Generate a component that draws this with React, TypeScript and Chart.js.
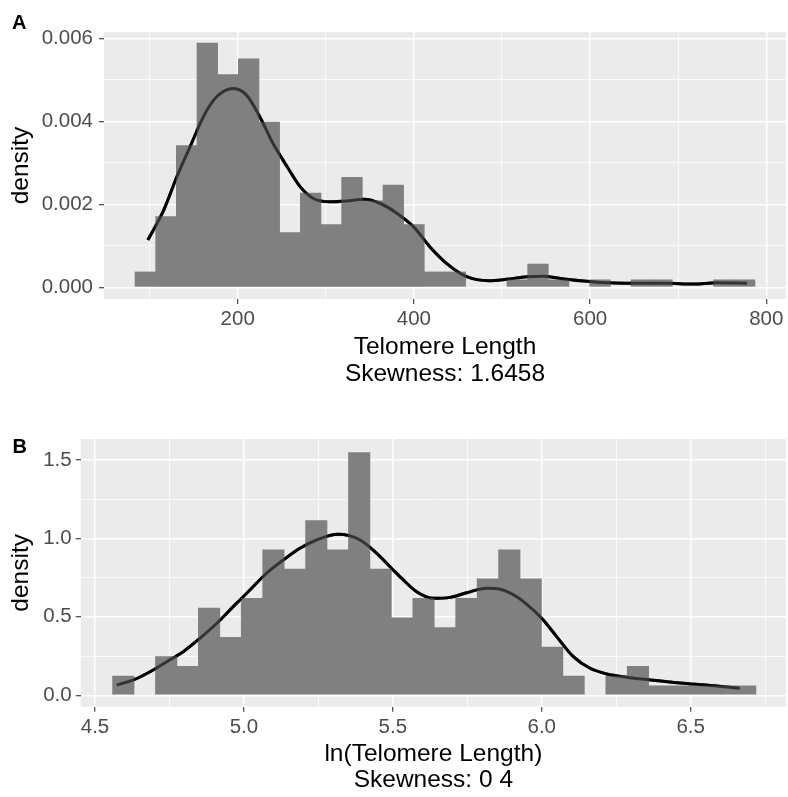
import React, { useEffect, useRef } from 'react';
import { Chart, registerables } from 'chart.js';

Chart.register(...registerables);

const FONT = '"Liberation Sans", Arial, Helvetica, sans-serif';

// ---- Panel A: telomere length ----
const lengthBinCenters = [
  95.1, 118.56, 142.02, 165.48, 188.94, 212.4, 235.86, 259.32, 282.78, 306.24,
  329.7, 353.16, 376.62, 400.08, 423.54, 447.0, 470.46, 493.92, 517.38, 540.84,
  564.3, 587.76, 611.22, 634.68, 658.14, 681.6, 705.06, 728.52, 751.98, 775.44,
];
const lengthDensity = [
  0.00038, 0.00171, 0.00342, 0.00589, 0.00513, 0.00551, 0.00399, 0.00133, 0.00228, 0.00152,
  0.00266, 0.00209, 0.00247, 0.00152, 0.00038, 0.00038, 0, 0, 0.00019, 0.00057,
  0.00019, 0, 0.00019, 0, 0.00019, 0.00019, 0, 0, 0.00019, 0.00019,
];
const lengthCurveX = [
  98, 116, 131, 146, 161, 176, 195, 210, 225, 240, 256, 271, 286, 305, 324, 343, 362,
  381, 400, 418, 437, 460, 485, 505, 528, 547, 566, 589, 611, 649, 687, 717, 744, 778,
];
const lengthCurveY = [
  0.00114, 0.00186, 0.00267, 0.00339, 0.00411, 0.00459, 0.00479, 0.00463, 0.00411, 0.00347,
  0.00291, 0.00242, 0.00214, 0.00206, 0.00208, 0.00212, 0.00202, 0.00178, 0.00145, 0.00098,
  0.00058, 0.000256, 0.00016, 0.000195, 0.000256, 0.00027, 0.000216, 0.00016, 0.00012, 0.0001,
  0.0001, 0.00008, 0.00011, 0.0001,
];
const lengthXMajor = [200, 400, 600, 800];
const lengthXLabels = ['200', '400', '600', '800'];
const lengthXMinor = [100, 300, 500, 700];
const lengthYMajor = [0, 0.002, 0.004, 0.006];
const lengthYLabels = ['0.000', '0.002', '0.004', '0.006'];
const lengthYMinor = [0.001, 0.003, 0.005];

// ---- Panel B: ln(telomere length) ----
const logBinCenters = [
  4.595, 4.667, 4.739, 4.811, 4.883, 4.955, 5.027, 5.099, 5.171, 5.243,
  5.315, 5.387, 5.459, 5.531, 5.603, 5.675, 5.747, 5.819, 5.891, 5.963,
  6.035, 6.107, 6.179, 6.251, 6.323, 6.395, 6.467, 6.539, 6.611, 6.683,
];
const logDensity = [
  0.124, 0, 0.248, 0.186, 0.558, 0.372, 0.62, 0.93, 0.806, 1.116,
  0.93, 1.55, 0.806, 0.496, 0.62, 0.434, 0.62, 0.744, 0.93, 0.744,
  0.31, 0.124, 0, 0.124, 0.186, 0.062, 0.062, 0.062, 0.062, 0.062,
];
const logCurveX = [
  4.573, 4.629, 4.685, 4.741, 4.796, 4.852, 4.909, 4.964, 5.02, 5.076, 5.132, 5.188,
  5.244, 5.316, 5.39, 5.446, 5.501, 5.53, 5.58, 5.636, 5.692, 5.748, 5.815, 5.86,
  5.916, 5.971, 6.005, 6.05, 6.106, 6.162, 6.218, 6.285, 6.363, 6.475, 6.587, 6.665,
];
const logCurveY = [
  0.066, 0.098, 0.15, 0.214, 0.278, 0.363, 0.459, 0.565, 0.671, 0.778, 0.862, 0.937,
  0.99, 1.026, 0.99, 0.905, 0.799, 0.745, 0.66, 0.618, 0.624, 0.654, 0.682, 0.676,
  0.628, 0.544, 0.48, 0.374, 0.246, 0.172, 0.136, 0.115, 0.098, 0.076, 0.059, 0.045,
];
const logXMajor = [4.5, 5.0, 5.5, 6.0, 6.5];
const logXLabels = ['4.5', '5.0', '5.5', '6.0', '6.5'];
const logXMinor = [4.75, 5.25, 5.75, 6.25, 6.75];
const logYMajor = [0, 0.5, 1.0, 1.5];
const logYLabels = ['0.0', '0.5', '1.0', '1.5'];
const logYMinor = [0.25, 0.75, 1.25];

type PanelSpec = {
  tag: string;
  tagX: number;
  tagY: number;
  binCenters: number[];
  density: number[];
  curveX: number[];
  curveY: number[];
  xRange: [number, number];
  yRange: [number, number];
  xMajor: number[];
  xLabels: string[];
  xMinor: number[];
  yMajor: number[];
  yLabels: string[];
  yMinor: number[];
  xTitle: string[];
  height: number;
  padTop: number;
  yAxisWidth: number;
  xAxisHeight: number;
  yTickPad: number;
  xTickPad: number;
  xTitlePad: number;
  yTitlePad: number;
};

const lengthPanel: PanelSpec = {
  tag: 'A',
  tagX: 12,
  tagY: 28.5,
  binCenters: lengthBinCenters,
  density: lengthDensity,
  curveX: lengthCurveX,
  curveY: lengthCurveY,
  xRange: [48.2, 822.4],
  yRange: [-0.00028, 0.00615],
  xMajor: lengthXMajor,
  xLabels: lengthXLabels,
  xMinor: lengthXMinor,
  yMajor: lengthYMajor,
  yLabels: lengthYLabels,
  yMinor: lengthYMinor,
  xTitle: ['Telomere Length', 'Skewness: 1.6458'],
  height: 398,
  padTop: 32,
  yAxisWidth: 104,
  xAxisHeight: 99,
  yTickPad: 6,
  xTickPad: 3.2,
  xTitlePad: 10.8,
  yTitlePad: 6.3,
};

const logPanel: PanelSpec = {
  tag: 'B',
  tagX: 12.5,
  tagY: 54.7,
  binCenters: logBinCenters,
  density: logDensity,
  curveX: logCurveX,
  curveY: logCurveY,
  xRange: [4.452, 6.82],
  yRange: [-0.073, 1.634],
  xMajor: logXMajor,
  xLabels: logXLabels,
  xMinor: logXMinor,
  yMajor: logYMajor,
  yLabels: logYLabels,
  yMinor: logYMinor,
  xTitle: ['ln(Telomere Length)', 'Skewness: 0 4'],
  height: 399,
  padTop: 41,
  yAxisWidth: 80.7,
  xAxisHeight: 90.3,
  yTickPad: 4,
  xTickPad: 3.2,
  xTitlePad: 3,
  yTitlePad: 6.3,
};

// Grey panel behind the grid, plus the bold panel tag in the corner.
const panelDecor = {
  id: 'panelDecor',
  beforeDraw(chart: any) {
    const { ctx, chartArea: a } = chart;
    ctx.save();
    ctx.fillStyle = '#EBEBEB';
    ctx.fillRect(a.left, a.top, a.right - a.left, a.bottom - a.top);
    ctx.restore();
  },
  afterDraw(chart: any, _args: any, opts: any) {
    const { ctx } = chart;
    ctx.save();
    ctx.font = `bold ${opts.size}px ${FONT}`;
    ctx.fillStyle = '#000000';
    ctx.textBaseline = 'alphabetic';
    ctx.textAlign = 'left';
    ctx.fillText(opts.text, opts.x, opts.y);
    ctx.restore();
  },
};

const near = (a: number, b: number) => Math.abs(a - b) < 1e-9;
const isMajor = (list: number[], v: number) => list.some((m) => near(m, v));

function axisTicks(major: number[], minor: number[]) {
  return [...major, ...minor].sort((a, b) => a - b).map((value) => ({ value }));
}

function gridFor(major: number[]) {
  return {
    color: '#FFFFFF',
    lineWidth: (c: any) => (c.tick && isMajor(major, c.tick.value) ? 1.45 : 0.75),
    drawTicks: true,
    tickLength: 5,
    tickWidth: 1.1,
    tickColor: (c: any) => (c.tick && isMajor(major, c.tick.value) ? '#333333' : 'rgba(0,0,0,0)'),
    offset: false,
  };
}

function labelFor(major: number[], labels: string[]) {
  return (value: any) => {
    const i = major.findIndex((m) => near(m, Number(value)));
    return i >= 0 ? labels[i] : '';
  };
}

function makeConfig(p: PanelSpec): any {
  const bars = p.binCenters.map((x, i) => ({ x, y: p.density[i] }));
  const curve = p.curveX.map((x, i) => ({ x, y: p.curveY[i] }));
  const tickFont = { family: FONT, size: 20.5, lineHeight: 1.2 };
  const titleFont = { family: FONT, size: 24.5, lineHeight: 1.094 };
  return {
    type: 'bar',
    data: {
      datasets: [
        {
          type: 'line',
          data: curve,
          borderColor: '#000000',
          borderWidth: 3,
          pointRadius: 0,
          fill: false,
          cubicInterpolationMode: 'monotone',
          order: 3,
        },
        {
          type: 'bar',
          data: bars,
          backgroundColor: '#808080',
          borderWidth: 0,
          barPercentage: 1,
          categoryPercentage: 1.03,
          order: 2,
        },
        {
          type: 'line',
          data: curve,
          borderColor: 'rgba(0,0,0,0.6)',
          borderWidth: 3,
          pointRadius: 0,
          fill: false,
          cubicInterpolationMode: 'monotone',
          order: 1,
        },
      ],
    },
    options: {
      responsive: false,
      animation: false,
      events: [],
      layout: { padding: { top: p.padTop, right: 2, left: 0, bottom: 0 } },
      plugins: {
        legend: { display: false },
        tooltip: { enabled: false },
        panelDecor: { text: p.tag, x: p.tagX, y: p.tagY, size: 20 },
      },
      scales: {
        x: {
          type: 'linear',
          position: 'bottom',
          min: p.xRange[0],
          max: p.xRange[1],
          offset: false,
          grid: gridFor(p.xMajor),
          border: { display: false },
          afterBuildTicks: (scale: any) => {
            scale.ticks = axisTicks(p.xMajor, p.xMinor);
          },
          afterFit: (scale: any) => {
            scale.height = p.xAxisHeight;
          },
          ticks: {
            autoSkip: false,
            maxRotation: 0,
            minRotation: 0,
            padding: p.xTickPad,
            color: '#4D4D4D',
            font: tickFont,
            callback: labelFor(p.xMajor, p.xLabels),
          },
          title: {
            display: true,
            text: p.xTitle,
            color: '#000000',
            font: titleFont,
            padding: { top: 0, bottom: p.xTitlePad },
          },
        },
        y: {
          type: 'linear',
          position: 'left',
          min: p.yRange[0],
          max: p.yRange[1],
          grid: gridFor(p.yMajor),
          border: { display: false },
          afterBuildTicks: (scale: any) => {
            scale.ticks = axisTicks(p.yMajor, p.yMinor);
          },
          afterFit: (scale: any) => {
            scale.width = p.yAxisWidth;
          },
          ticks: {
            autoSkip: false,
            padding: p.yTickPad,
            color: '#4D4D4D',
            font: tickFont,
            callback: labelFor(p.yMajor, p.yLabels),
          },
          title: {
            display: true,
            text: 'density',
            color: '#000000',
            font: { family: FONT, size: 24.5, lineHeight: 1.2 },
            padding: { top: p.yTitlePad, bottom: 0 },
          },
        },
      },
    },
    plugins: [panelDecor],
  };
}

function Panel({ spec, top }: { spec: PanelSpec; top: number }) {
  const ref = useRef<HTMLCanvasElement>(null);
  useEffect(() => {
    if (!ref.current) return;
    const chart = new Chart(ref.current, makeConfig(spec));
    return () => chart.destroy();
  }, [spec]);
  return (
    <canvas
      ref={ref}
      width={788}
      height={spec.height}
      style={{ position: 'absolute', left: 0, top, width: 788, height: spec.height, display: 'block' }}
    />
  );
}

export default function App() {
  return (
    <div style={{ position: 'fixed', left: 0, top: 0, width: 788, height: 797, background: '#FFFFFF' }}>
      <Panel spec={lengthPanel} top={0} />
      <Panel spec={logPanel} top={398} />
    </div>
  );
}
